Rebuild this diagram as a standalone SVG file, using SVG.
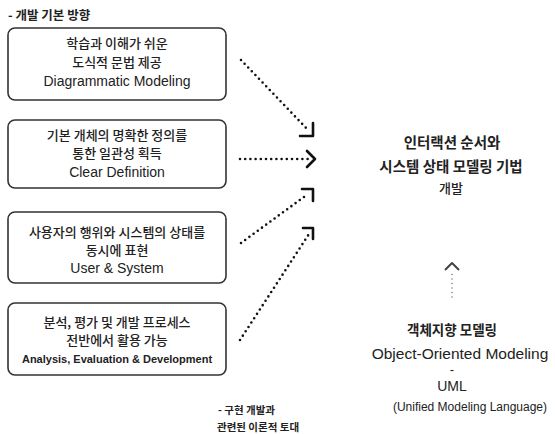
<svg xmlns="http://www.w3.org/2000/svg" width="555" height="434" viewBox="0 0 555 434">
<style>
.box{fill:#fff;stroke:#333;stroke-width:1.6}
.ko{font-family:"Noto Sans CJK KR","Noto Sans",sans-serif;font-size:13px;font-weight:500;fill:#222;text-anchor:middle}
.en{font-family:"Liberation Sans",Arial,sans-serif;fill:#222;text-anchor:middle}
.enb{font-family:"Liberation Sans",Arial,sans-serif;font-size:11px;font-weight:bold;fill:#222;text-anchor:middle}
.lbl{font-family:"Noto Sans CJK KR","Noto Sans",sans-serif;font-weight:bold;fill:#222}
.dot{fill:none;stroke:#111;stroke-width:2.6;stroke-linecap:round;stroke-dasharray:0 5.2}
.head{fill:none;stroke:#111;stroke-width:2.6;stroke-linecap:round;stroke-linejoin:round}
.title{font-family:"Noto Sans CJK KR","Noto Sans",sans-serif;font-weight:bold;fill:#222;text-anchor:middle}
</style>
<rect width="555" height="434" fill="#fff"/>
<text class="lbl" x="8" y="20" style="font-size:12.5px">- 개발 기본 방향</text>
<g id="box1">
<rect class="box" x="8" y="28" width="218" height="72" rx="7"/>
<text class="ko" x="117" y="48">학습과 이해가 쉬운</text>
<text class="ko" x="117" y="67">도식적 문법 제공</text>
<text class="en" x="117" y="86" style="font-size:14px">Diagrammatic Modeling</text>
</g>
<g id="box2">
<rect class="box" x="8" y="120" width="218" height="68" rx="7"/>
<text class="ko" x="117" y="140">기본 개체의 명확한 정의를</text>
<text class="ko" x="117" y="158">통한 일관성 획득</text>
<text class="en" x="117" y="177" style="font-size:14px">Clear Definition</text>
</g>
<g id="box3">
<rect class="box" x="8" y="212" width="218" height="71" rx="7"/>
<text class="ko" x="117" y="237">사용자의 행위와 시스템의 상태를</text>
<text class="ko" x="117" y="255">동시에 표현</text>
<text class="en" x="117" y="273" style="font-size:14px">User &amp; System</text>
</g>
<g id="box4">
<rect class="box" x="8" y="303" width="218" height="72" rx="7"/>
<text class="ko" x="117" y="327">분석, 평가 및 개발 프로세스</text>
<text class="ko" x="117" y="345">전반에서 활용 가능</text>
<text class="enb" x="117" y="363">Analysis, Evaluation &amp; Development</text>
</g>
<g id="goal">
<text class="title" x="452" y="148" style="font-size:14.5px">인터랙션 순서와</text>
<text class="title" x="451" y="172" style="font-size:14.5px">시스템 상태 모델링 기법</text>
<text class="title" x="451" y="193" style="font-size:13px;font-weight:500">개발</text>
</g>
<g id="oom">
<text class="title" x="452" y="335" style="font-size:13.5px">객체지향 모델링</text>
<text class="en" x="460" y="359" style="font-size:15.5px">Object-Oriented Modeling</text>
<text class="en" x="452" y="374" style="font-size:13px">-</text>
<text class="en" x="452" y="391" style="font-size:14px">UML</text>
<text class="en" x="470" y="411" style="font-size:12px">(Unified Modeling Language)</text>
</g>
<g id="basis">
<text class="lbl" x="218" y="414" style="font-size:10.5px">- 구현 개발과</text>
<text class="lbl" x="217" y="431" style="font-size:10.5px">관련된 이론적 토대</text>
</g>
<g id="connectors">
<path class="dot" d="M241 60 L309 131"/>
<path class="head" d="M300 136 L313 136 L313 123"/>
<path class="dot" d="M240 159 L308 159"/>
<path class="head" d="M307 151 L315 159 L307 167"/>
<path class="dot" d="M241 243 L308 194"/>
<path class="head" d="M302 189 L313 189 L313 201"/>
<path class="dot" d="M240 340 L309 234"/>
<path class="head" d="M303 228 L313 228 L313 239"/>
<path d="M452 297 L452 273" fill="none" stroke="#666" stroke-width="1.4" stroke-linecap="round" stroke-dasharray="0 4.5"/>
<path d="M445 270 L452 263 L459 270" fill="none" stroke="#444" stroke-width="2" stroke-linejoin="round"/>
</g>
</svg>
